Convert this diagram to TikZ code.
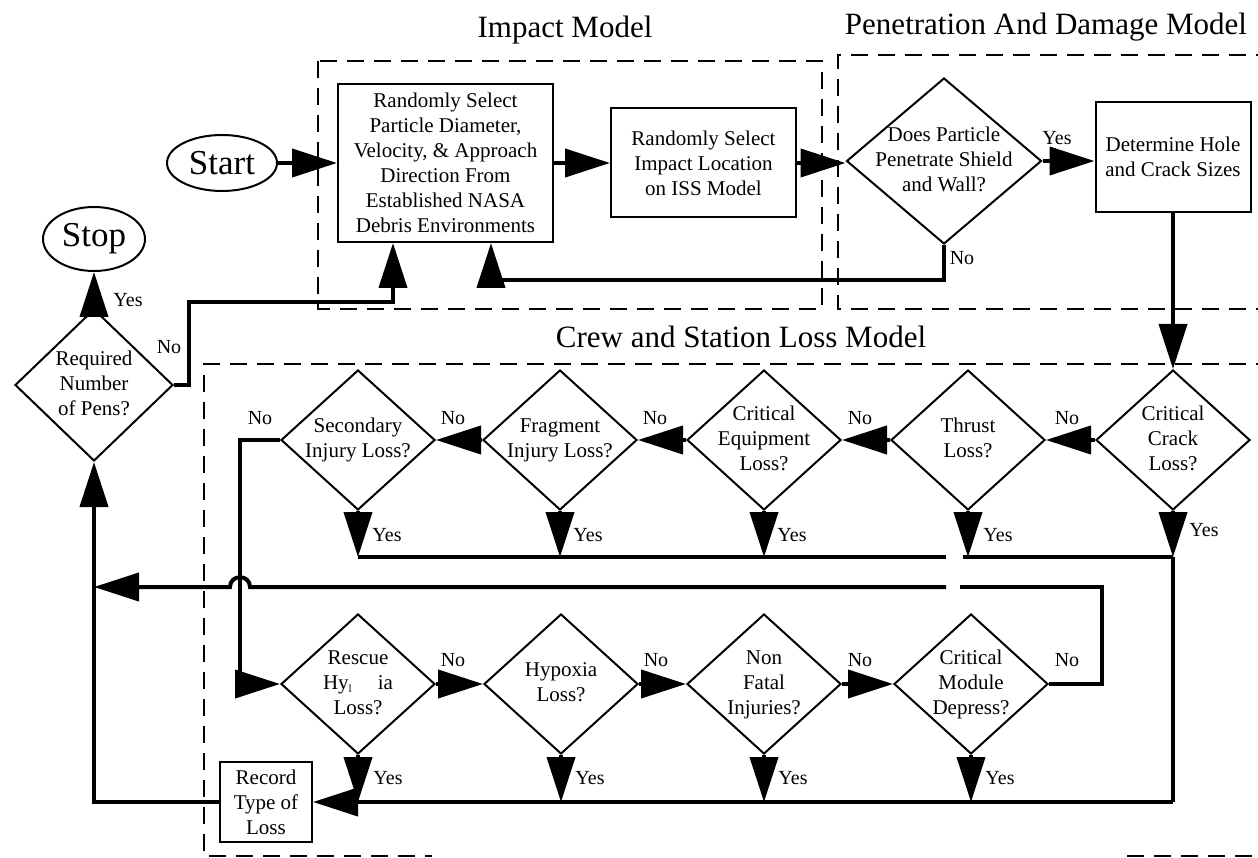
\documentclass[tikz,border=0pt]{standalone}
\usepackage{fontspec}
\setmainfont{Liberation Serif}
\usetikzlibrary{shapes.geometric,arrows.meta}
\newcommand{\dtx}[1]{\smash{\makebox[0pt]{\raisebox{-0.25em}{\begin{tabular}{@{}c@{}}#1\end{tabular}}}}}
\tikzset{
  dia/.style={diamond, draw, line width=2pt, inner sep=0pt, minimum width=154pt, minimum height=140pt, font=\fontsize{21pt}{25pt}\selectfont},
  box/.style={rectangle, draw, line width=2pt, inner sep=0pt, align=center, font=\fontsize{21pt}{25pt}\selectfont},
  term/.style={ellipse, draw, line width=2pt, inner sep=0pt, font=\fontsize{35pt}{40pt}\selectfont},
  lbl/.style={inner sep=0pt, font=\fontsize{20pt}{22pt}\selectfont},
  ttl/.style={inner sep=0pt, anchor=base, font=\fontsize{31pt}{36pt}\selectfont},
  conn/.style={line width=4pt},
  arr/.style={line width=4pt, -{Triangle[length=45pt,width=28pt]}},
  grp/.style={dash pattern=on 17pt off 10pt, line width=2.5pt},
}
\begin{document}
\begin{tikzpicture}[x=1pt,y=-1pt]
\useasboundingbox (0,0) rectangle (1258,858);
\clip (0,0) rectangle (1258,858);

% group frames
\draw[grp] (318,61) rectangle (822,309);
\draw[grp] (1300,55) -- (838,55) -- (838,309) -- (1300,309);
\draw[grp] (1300,364) -- (204,364) -- (204,856) -- (432,856);
\draw[grp] (1127,856) -- (1300,856);

% titles
\node[ttl] (t1) at (565,38) {Impact Model};
\node[ttl] (t2) at (1046,35) {Penetration And Damage Model};
\node[ttl] (t3) at (741,348) {Crew and Station Loss Model};

% nodes
\node[term, minimum width=110pt, minimum height=56pt] (start) at (222,163) {Start};
\node[term, minimum width=102pt, minimum height=64pt] (stop) at (94,239) {Stop};
\node[box, minimum width=215pt, minimum height=158pt] (b1) at (445.5,163) {Randomly Select\\Particle Diameter,\\Velocity, \& Approach\\Direction From\\Established NASA\\Debris Environments};
\node[box, minimum width=185pt, minimum height=109pt] (b2) at (703.5,163) {Randomly Select\\Impact Location\\on ISS Model};
\node[dia, minimum width=195pt, minimum height=166pt] (pen) at (944,161) {\dtx{Does Particle\\Penetrate Shield\\and Wall?}};
\node[box, minimum width=155pt, minimum height=110pt] (b3) at (1173,157) {Determine Hole\\and Crack Sizes};
\node[dia, minimum width=158pt, minimum height=152pt] (req) at (94,385) {\dtx{Required\\Number\\of Pens?}};

\node[dia] (sec) at (358,440) {\dtx{Secondary\\Injury Loss?}};
\node[dia] (frag) at (560,440) {\dtx{Fragment\\Injury Loss?}};
\node[dia] (equip) at (764,440) {\dtx{Critical\\Equipment\\Loss?}};
\node[dia] (thr) at (968,440) {\dtx{Thrust\\Loss?}};
\node[dia] (crack) at (1173,440) {\dtx{Critical\\Crack\\Loss?}};

\node[dia] (resc) at (358,684) {\dtx{Rescue\\Hy\raisebox{-3pt}{\fontsize{11pt}{11pt}\selectfont l}\hspace{26pt}ia\\Loss?}};
\node[dia] (hyp) at (561,684) {\dtx{Hypoxia\\Loss?}};
\node[dia] (nf) at (764,684) {\dtx{Non\\Fatal\\Injuries?}};
\node[dia] (dep) at (971,684) {\dtx{Critical\\Module\\Depress?}};

\node[box, minimum width=92pt, minimum height=80pt] (rec) at (266,802) {Record\\Type of\\Loss};

% coordinates
\coordinate (rq1) at (189,385);
\coordinate (rq2) at (189,302);
\coordinate (rq3) at (393,302);
\coordinate (pn1) at (944,280);
\coordinate (pn2) at (491,280);
\coordinate (s1) at (240,440);
\coordinate (s2) at (240,684);
\coordinate (tc) at (1173,557);
\coordinate (g1) at (946,557);
\coordinate (g2) at (963,557);
\coordinate (bc) at (1173,802);
\coordinate (d1) at (1102,684);
\coordinate (d2) at (1102,587);
\coordinate (g3) at (960,587);
\coordinate (g4) at (946,587);
\coordinate (br1) at (250,587);
\coordinate (br2) at (230,587);
\coordinate (lv) at (94,587);
\coordinate (lb) at (94,802);

% top connectors
\draw[arr] (start.east) -- (b1.west);
\draw[arr] (b1.east) -- (b2.west);
\draw[arr] (b2.east) -- (b2.east -| pen.west);
\draw[arr] (pen.east) -- (pen.east -| b3.west);
\draw[arr] (pen.south) -- (pn1) -- (pn2) -- (pn2 |- b1.south);
\draw[arr] (req.east) -- (rq1) -- (rq2) -- (rq3) -- (rq3 |- b1.south);
\draw[arr] (req.north) -- (stop.south);
\draw[arr] (b3.south) -- (crack.north);

% top row
\draw[arr] (crack.west) -- (thr.east);
\draw[arr] (thr.west) -- (equip.east);
\draw[arr] (equip.west) -- (frag.east);
\draw[arr] (frag.west) -- (sec.east);
\draw[arr] (sec.west) -- (s1) -- (s2) -- (resc.west);

\draw[arr] (sec.south) -- (sec.south |- tc);
\draw[arr] (frag.south) -- (frag.south |- tc);
\draw[arr] (equip.south) -- (equip.south |- tc);
\draw[arr] (thr.south) -- (thr.south |- tc);
\draw[arr] (crack.south) -- (tc);
\draw[conn] (sec.south |- tc) -- (g1);
\draw[conn] (g2) -- (tc);
\draw[conn] (tc) -- (bc);

% bottom row
\draw[arr] (resc.east) -- (hyp.west);
\draw[arr] (hyp.east) -- (nf.west);
\draw[arr] (nf.east) -- (dep.west);
\draw[arr] (resc.south) -- (resc.south |- bc);
\draw[arr] (hyp.south) -- (hyp.south |- bc);
\draw[arr] (nf.south) -- (nf.south |- bc);
\draw[arr] (dep.south) -- (dep.south |- bc);
\draw[arr] (bc) -- (rec.east);
\draw[conn] (dep.east) -- (d1) -- (d2) -- (g3);
\draw[arr] (g4) -- (br1) .. controls +(0,-13) and +(0,-13) .. (br2) -- (lv);
\draw[arr] (rec.west) -- (lb) -- (req.south);

% labels
\node[lbl] (ly0) at (128,300) {Yes};
\node[lbl] (ln0) at (169,347) {No};
\node[lbl] (ly1) at (1057,138) {Yes};
\node[lbl] (ln1) at (962,258) {No};
\node[lbl] (ln2) at (260,418) {No};
\node[lbl] (ln3) at (453,418) {No};
\node[lbl] (ln4) at (655,418) {No};
\node[lbl] (ln5) at (860,418) {No};
\node[lbl] (ln6) at (1067,418) {No};
\node[lbl] (ly2) at (387,535) {Yes};
\node[lbl] (ly3) at (588,535) {Yes};
\node[lbl] (ly4) at (792,535) {Yes};
\node[lbl] (ly5) at (998,535) {Yes};
\node[lbl] (ly6) at (1204,530) {Yes};
\node[lbl] (ln7) at (453,660) {No};
\node[lbl] (ln8) at (656,660) {No};
\node[lbl] (ln9) at (860,660) {No};
\node[lbl] (ln10) at (1067,660) {No};
\node[lbl] (ly7) at (388,778) {Yes};
\node[lbl] (ly8) at (590,778) {Yes};
\node[lbl] (ly9) at (793,778) {Yes};
\node[lbl] (ly10) at (1000,778) {Yes};
\end{tikzpicture}
\end{document}
